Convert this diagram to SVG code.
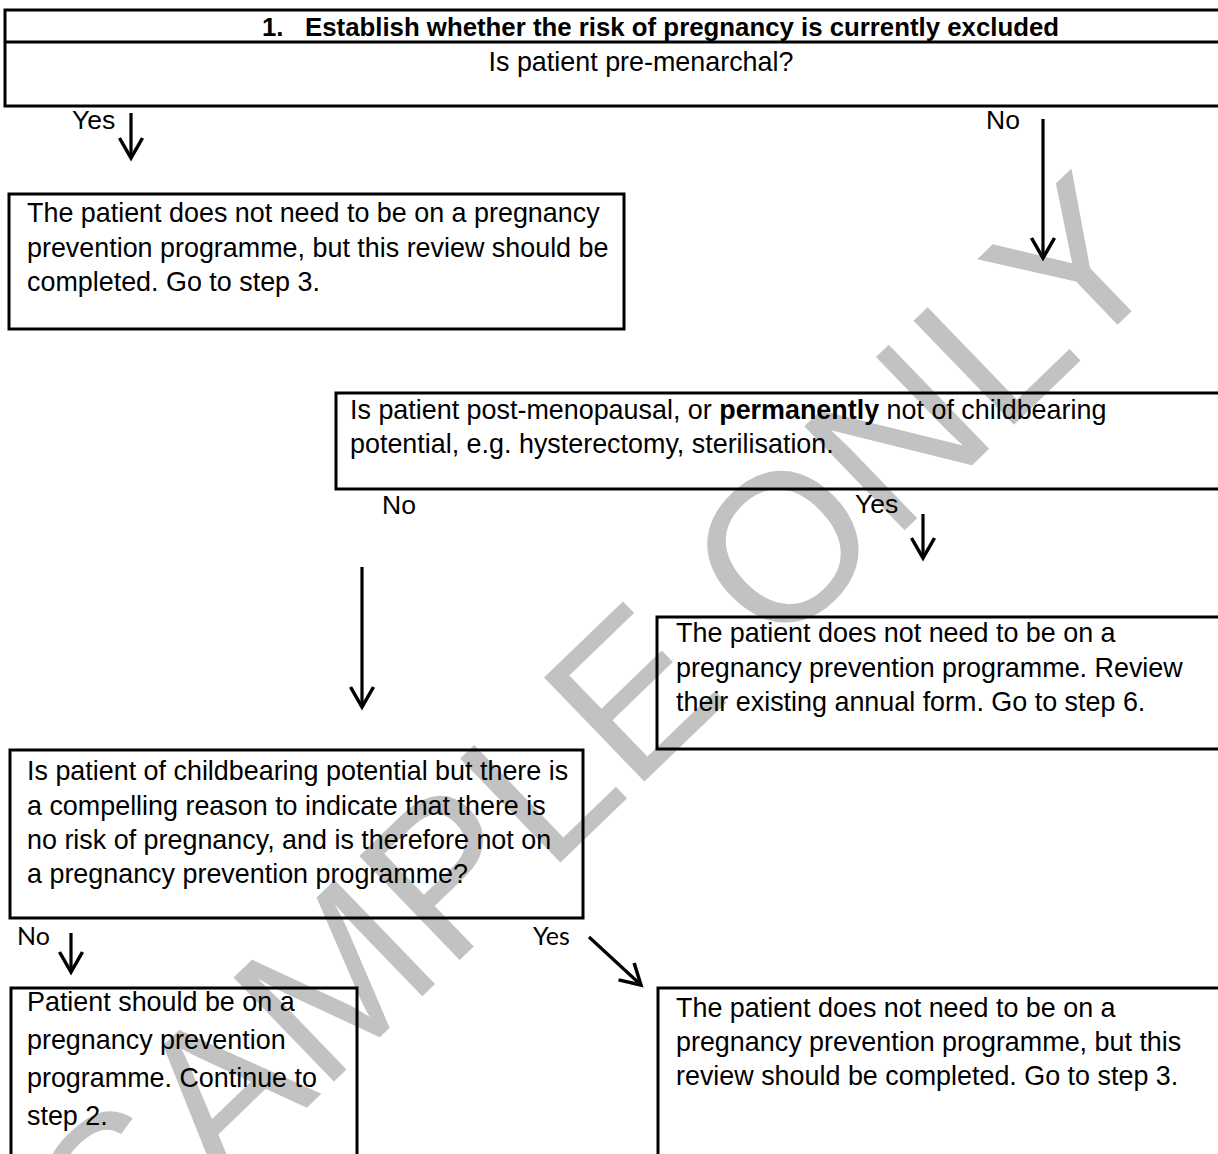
<svg xmlns="http://www.w3.org/2000/svg" width="1218" height="1154" viewBox="0 0 1218 1154">
<style>
  .box { fill: none; stroke: #000; stroke-width: 3; }
  .t { font-family: "Liberation Sans", Arial, sans-serif; font-size: 26.9px; fill: #000; }
  .tb { font-family: "Liberation Sans", Arial, sans-serif; font-size: 25.8px; font-weight: bold; fill: #000; }
  .lbl { font-family: "Liberation Sans", Arial, sans-serif; font-size: 26.5px; fill: #000; }
  .lbl2 { font-family: Lato, "Open Sans", sans-serif; font-size: 25px; fill: #000; }
  .conn { fill: none; stroke: #000; stroke-width: 3.2; marker-end: url(#head); }
  .wm { font-family: "Liberation Sans", Arial, sans-serif; font-size: 210px; fill: #c2c2c2; }
</style>
<defs>
  <marker id="head" markerUnits="userSpaceOnUse" viewBox="-24 -14 28 28" markerWidth="28" markerHeight="28" refX="0" refY="0" orient="auto">
    <path d="M-20,-11.5 L0,0 L-20,11.5" fill="none" stroke="#000" stroke-width="3.5"/>
  </marker>
</defs>
<rect width="1218" height="1154" fill="#fff"/>
<text class="wm" transform="translate(120,1288) rotate(-44)">SAMPLE ONLY</text>

<g id="header">
  <rect class="box" x="5" y="10" width="1230" height="96"/>
  <line x1="5" y1="42" x2="1235" y2="42" stroke="#000" stroke-width="3"/>
  <text class="tb" x="262" y="36">1.<tspan x="305">Establish whether the risk of pregnancy is currently excluded</tspan></text>
  <text class="t" x="641" y="71" text-anchor="middle">Is patient pre-menarchal?</text>
</g>

<g id="boxA">
  <rect class="box" x="9" y="194" width="615" height="135"/>
  <text class="t" x="27" y="222">The patient does not need to be on a pregnancy</text>
  <text class="t" x="27" y="257">prevention programme, but this review should be</text>
  <text class="t" x="27" y="291">completed. Go to step 3.</text>
</g>

<g id="boxB">
  <rect class="box" x="336" y="393" width="900" height="96"/>
  <text class="t" x="350" y="419">Is patient post-menopausal, or <tspan font-weight="bold">permanently</tspan> not of childbearing</text>
  <text class="t" x="350" y="453">potential, e.g. hysterectomy, sterilisation.</text>
</g>

<g id="boxC">
  <rect class="box" x="657" y="617" width="600" height="132"/>
  <text class="t" x="676" y="642">The patient does not need to be on a</text>
  <text class="t" x="676" y="677">pregnancy prevention programme. Review</text>
  <text class="t" x="676" y="711">their existing annual form. Go to step 6.</text>
</g>

<g id="boxD">
  <rect class="box" x="10" y="750" width="573" height="168"/>
  <text class="t" x="27" y="780">Is patient of childbearing potential but there is</text>
  <text class="t" x="27" y="815">a compelling reason to indicate that there is</text>
  <text class="t" x="27" y="849">no risk of pregnancy, and is therefore not on</text>
  <text class="t" x="27" y="883">a pregnancy prevention programme?</text>
</g>

<g id="boxE">
  <rect class="box" x="11" y="988" width="346" height="200"/>
  <text class="t" x="27" y="1011">Patient should be on a</text>
  <text class="t" x="27" y="1049">pregnancy prevention</text>
  <text class="t" x="27" y="1087">programme. Continue to</text>
  <text class="t" x="27" y="1125">step 2.</text>
</g>

<g id="boxF">
  <rect class="box" x="658" y="988" width="600" height="200"/>
  <text class="t" x="676" y="1017">The patient does not need to be on a</text>
  <text class="t" x="676" y="1051">pregnancy prevention programme, but this</text>
  <text class="t" x="676" y="1085">review  should be completed. Go to step 3.</text>
</g>

<g id="connectors">
  <path class="conn" d="M131,113 L131,158"/>
  <path class="conn" d="M1043,119 L1043,258"/>
  <path class="conn" d="M362,567 L362,707"/>
  <path class="conn" d="M923,514 L923,558"/>
  <path class="conn" d="M71,933 L71,972"/>
  <path class="conn" d="M589,937 L641,985"/>
  <text class="lbl" x="72" y="129">Yes</text>
  <text class="lbl" x="986" y="129">No</text>
  <text class="lbl" x="382" y="514">No</text>
  <text class="lbl" x="855" y="513">Yes</text>
  <text class="lbl2" x="17" y="945">No</text>
  <text class="lbl2" x="533" y="945">Yes</text>
</g>
</svg>
